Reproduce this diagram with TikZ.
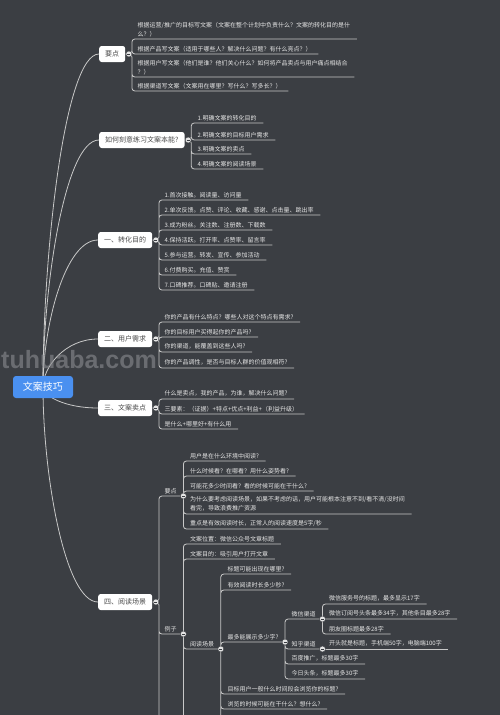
\documentclass[tikz,border=0pt]{standalone}
\usepackage{fontspec}
\setmainfont{Noto Sans CJK SC}
\newfontfamily\markfont{Liberation Sans}
\usetikzlibrary{calc}
\pgfdeclarelayer{canvas}
\pgfdeclarelayer{wires}
\pgfsetlayers{canvas,wires,main}
\definecolor{mapbg}{HTML}{3B3E43}
\definecolor{mapline}{HTML}{C8C8C8}
\definecolor{maptext}{HTML}{E6E6E6}
\definecolor{boxtext}{HTML}{4A4A4A}
\definecolor{rootblue}{HTML}{4A90F0}
\definecolor{knobfill}{HTML}{E4E4E4}
\definecolor{markgray}{HTML}{8A8C90}

\begin{document}
\begin{tikzpicture}[
    x=1pt, y=-1pt,
    root/.style={
      rectangle, rounded corners=3pt,
      fill=rootblue, text=white,
      font=\fontsize{10}{12}\selectfont,
      minimum width=60pt, minimum height=22pt, inner sep=0pt,
    },
    topic/.style={
      rectangle, rounded corners=2.5pt, anchor=west,
      fill=white, text=boxtext,
      font=\fontsize{7}{8}\selectfont,
      minimum height=16pt, inner xsep=6pt, inner ysep=0pt,
    },
    leaf/.style={
      anchor=south west, align=left, text=maptext,
      font=\fontsize{6}{9}\selectfont,
      inner xsep=6.5pt, inner ysep=2.2pt,
    },
    knob/.style={
      circle, fill=knobfill, draw=mapbg, line width=0.4pt,
      minimum size=6pt, inner sep=0pt,
      path picture={\draw[mapbg, line width=0.6pt]
        ([xshift=-1.5pt]path picture bounding box.center) --
        ([xshift=1.5pt]path picture bounding box.center);},
    },
    link/.style={draw=mapline, line width=0.8pt, rounded corners=3pt},
    curve/.style={draw=mapline, line width=0.8pt},
  ]

  \useasboundingbox (0,0) rectangle (500,715);
  \begin{pgfonlayer}{canvas}
    \fill[mapbg] (0,0) rectangle (500,715);
  \end{pgfonlayer}
  \clip (0,0) rectangle (500,715);

  % root and main branches
  \node[root] (root) at (43,387) {文案技巧};
  \node[topic] (yd) at (99,54) {要点};
  \node[topic] (lx) at (99,140) {如何刻意练习文案本能?};
  \node[topic] (mb) at (98,240) {一、转化目的};
  \node[topic] (xq) at (98,339) {二、用户需求};
  \node[topic] (md) at (98,408) {三、文案卖点};
  \node[topic] (cj) at (98,602) {四、阅读场景};

  \begin{pgfonlayer}{wires}
    \draw[curve] (root.center) .. controls +(0,-137) and +(-34,0) .. (yd.west);
    \draw[curve] (root.center) .. controls +(0,-101) and +(-34,0) .. (lx.west);
    \draw[curve] (root.center) .. controls +(0,-61) and +(-33,0) .. (mb.west);
    \draw[curve] (root.center) .. controls +(0,-20) and +(-33,0) .. (xq.west);
    \draw[curve] (root.center) .. controls +(0,9) and +(-33,0) .. (md.west);
    \draw[curve] (root.center) .. controls +(0,88) and +(-33,0) .. (cj.west);
  \end{pgfonlayer}

  % 要点
  \node[leaf] (yd-a) at (131,39) {根据运营/推广的目标写文案（文案在整个计划中负责什么？文案的转化目的是什\\么？）};
  \node[leaf] (yd-b) at (131,54) {根据产品写文案（适用于哪些人？解决什么问题？有什么亮点？）};
  \node[leaf] (yd-c) at (131,77) {根据用户写文案（他们是谁？他们关心什么？如何将产品卖点与用户痛点相结合\\？）};
  \node[leaf] (yd-d) at (131,91) {根据渠道写文案（文案用在哪里？写什么？写多长？）};
  \node[knob] (yd-k) at ([xshift=3.5pt]yd.east) {};
  \begin{pgfonlayer}{wires}
    \draw[link] (yd.east) -- ++(6.5,0) |- (yd-a.south east) (yd.east) -- ++(6.5,0) |- (yd-b.south east)
      (yd.east) -- ++(6.5,0) |- (yd-c.south east) (yd.east) -- ++(6.5,0) |- (yd-d.south east);
  \end{pgfonlayer}

  % 如何刻意练习
  \node[leaf] (lx-a) at (191,123) {1.明确文案的转化目的};
  \node[leaf] (lx-b) at (191,140) {2.明确文案的目标用户需求};
  \node[leaf] (lx-c) at (191,154) {3.明确文案的卖点};
  \node[leaf] (lx-d) at (191,169) {4.明确文案的阅读场景};
  \node[knob] (lx-k) at ([xshift=3.5pt]lx.east) {};
  \begin{pgfonlayer}{wires}
    \draw[link] (lx.east) -- ++(6.5,0) |- (lx-a.south east) (lx.east) -- ++(6.5,0) |- (lx-b.south east)
      (lx.east) -- ++(6.5,0) |- (lx-c.south east) (lx.east) -- ++(6.5,0) |- (lx-d.south east);
  \end{pgfonlayer}

  % 一、转化目的
  \node[leaf] (mb-a) at (158,200) {1.首次接触。阅读量、访问量};
  \node[leaf] (mb-b) at (158,215) {2.单次反馈。点赞、评论、收藏、感谢、点击量、跳出率};
  \node[leaf] (mb-c) at (158,230) {3.成为粉丝。关注数、注册数、下载数};
  \node[leaf] (mb-d) at (158,245) {4.保持活跃。打开率、点赞率、留言率};
  \node[leaf] (mb-e) at (158,260) {5.参与运营。转发、宣传、参加活动};
  \node[leaf] (mb-f) at (158,275) {6.付费购买。充值、赞赏};
  \node[leaf] (mb-g) at (158,290) {7.口碑推荐。口碑贴、邀请注册};
  \node[knob] (mb-k) at ([xshift=3.5pt]mb.east) {};
  \begin{pgfonlayer}{wires}
    \draw[link] (mb.east) -- ++(6.5,0) |- (mb-a.south east) (mb.east) -- ++(6.5,0) |- (mb-b.south east)
      (mb.east) -- ++(6.5,0) |- (mb-c.south east) (mb.east) -- ++(6.5,0) |- (mb-d.south east)
      (mb.east) -- ++(6.5,0) |- (mb-e.south east) (mb.east) -- ++(6.5,0) |- (mb-f.south east)
      (mb.east) -- ++(6.5,0) |- (mb-g.south east);
  \end{pgfonlayer}

  % 二、用户需求
  \node[leaf] (xq-a) at (158,322) {你的产品有什么特点？哪些人对这个特点有需求?};
  \node[leaf] (xq-b) at (158,337) {你的目标用户买得起你的产品吗?};
  \node[leaf] (xq-c) at (158,352) {你的渠道，能覆盖到这些人吗?};
  \node[leaf] (xq-d) at (158,368) {你的产品调性，是否与目标人群的价值观相符?};
  \node[knob] (xq-k) at ([xshift=3.5pt]xq.east) {};
  \begin{pgfonlayer}{wires}
    \draw[link] (xq.east) -- ++(6.5,0) |- (xq-a.south east) (xq.east) -- ++(6.5,0) |- (xq-b.south east)
      (xq.east) -- ++(6.5,0) |- (xq-c.south east) (xq.east) -- ++(6.5,0) |- (xq-d.south east);
  \end{pgfonlayer}

  % 三、文案卖点
  \node[leaf] (md-a) at (158,399) {什么是卖点，我的产品，为谁，解决什么问题?};
  \node[leaf] (md-b) at (158,414) {三要素：（证据）+特点+优点+利益+（利益升级）};
  \node[leaf] (md-c) at (158,429) {是什么+哪里好+有什么用};
  \node[knob] (md-k) at ([xshift=3.5pt]md.east) {};
  \begin{pgfonlayer}{wires}
    \draw[link] (md.east) -- ++(6.5,0) |- (md-a.south east) (md.east) -- ++(6.5,0) |- (md-b.south east)
      (md.east) -- ++(6.5,0) |- (md-c.south east);
  \end{pgfonlayer}

  % 四、阅读场景
  \node[leaf] (cj-a) at (158,496) {要点};
  \node[leaf] (cj-b) at (158,634) {例子};
  \coordinate (cj-end) at ($(cj.east)+(6.5,120)$);
  \node[knob] (cj-k) at ([xshift=3.5pt]cj.east) {};
  \begin{pgfonlayer}{wires}
    \draw[link] (cj.east) -- ++(6.5,0) |- (cj-a.south east) (cj.east) -- ++(6.5,0) |- (cj-b.south east)
      (cj.east) -- ++(6.5,0) -- (cj-end);
  \end{pgfonlayer}

  % 四 / 要点
  \node[leaf] (yd4-a) at (cj-a.south east |- 0,461) {用户是在什么环境中阅读?};
  \node[leaf] (yd4-b) at (cj-a.south east |- 0,476) {什么时候看？在哪看？用什么姿势看?};
  \node[leaf] (yd4-c) at (cj-a.south east |- 0,491) {可能花多少时间看？看的时候可能在干什么?};
  \node[leaf] (yd4-d) at (cj-a.south east |- 0,514) {为什么要考虑阅读场景，如果不考虑的话，用户可能根本注意不到/看不清/没时间\\看完，导致浪费推广资源};
  \node[leaf] (yd4-e) at (cj-a.south east |- 0,529) {重点是有效阅读时长，正常人的阅读速度是5字/秒};
  \node[knob] (cj-a-k) at (cj-a.south east) {};
  \begin{pgfonlayer}{wires}
    \draw[link] (cj-a.south east) |- (yd4-a.south east) (cj-a.south east) |- (yd4-b.south east)
      (cj-a.south east) |- (yd4-c.south east) (cj-a.south east) |- (yd4-d.south east)
      (cj-a.south east) |- (yd4-e.south east);
  \end{pgfonlayer}

  % 四 / 例子
  \node[leaf] (lz-a) at (cj-b.south east |- 0,544) {文案位置：微信公众号文章标题};
  \node[leaf] (lz-b) at (cj-b.south east |- 0,559) {文案目的：吸引用户打开文章};
  \node[leaf] (yc) at (cj-b.south east |- 0,649) {阅读场景};
  \coordinate (lz-end) at (cj-b.south east |- 0,722);
  \node[knob] (cj-b-k) at (cj-b.south east) {};
  \begin{pgfonlayer}{wires}
    \draw[link] (cj-b.south east) |- (lz-a.south east) (cj-b.south east) |- (lz-b.south east)
      (cj-b.south east) |- (yc.south east) (cj-b.south east) -- (lz-end);
  \end{pgfonlayer}

  % 阅读场景
  \node[leaf] (yc-a) at (yc.south east |- 0,574) {标题可能出现在哪里?};
  \node[leaf] (yc-b) at (yc.south east |- 0,590) {有效阅读时长多少秒?};
  \node[leaf] (zs) at (yc.south east |- 0,642) {最多能展示多少字?};
  \node[leaf] (yc-c) at (yc.south east |- 0,694) {目标用户一般什么时间段会浏览你的标题?};
  \node[leaf] (yc-d) at (yc.south east |- 0,709) {浏览的时候可能在干什么？想什么?};
  \coordinate (yc-end) at (yc.south east |- 0,722);
  \node[knob] (yc-k) at (yc.south east) {};
  \begin{pgfonlayer}{wires}
    \draw[link] (yc.south east) |- (yc-a.south east) (yc.south east) |- (yc-b.south east)
      (yc.south east) |- (zs.south east) (yc.south east) |- (yc-c.south east)
      (yc.south east) |- (yc-d.south east) (yc.south east) -- (yc-end);
  \end{pgfonlayer}

  % 最多能展示多少字
  \node[leaf] (wx) at (zs.south east |- 0,619) {微信渠道};
  \node[leaf] (zh) at (zs.south east |- 0,649) {知乎渠道};
  \node[leaf] (zs-a) at (zs.south east |- 0,664) {百度推广，标题最多30字};
  \node[leaf] (zs-b) at (zs.south east |- 0,679) {今日头条，标题最多30字};
  \node[knob] (zs-k) at (zs.south east) {};
  \begin{pgfonlayer}{wires}
    \draw[link] (zs.south east) |- (wx.south east) (zs.south east) |- (zh.south east)
      (zs.south east) |- (zs-a.south east) (zs.south east) |- (zs-b.south east);
  \end{pgfonlayer}

  % 微信渠道 / 知乎渠道
  \node[leaf] (wx-a) at (wx.south east |- 0,604) {微信服务号的标题，最多显示17字};
  \node[leaf] (wx-b) at (wx.south east |- 0,619) {微信订阅号头条最多34字，其他条目最多28字};
  \node[leaf] (wx-c) at (wx.south east |- 0,634) {朋友圈标题最多28字};
  \node[leaf] (zh-a) at (zh.south east |- 0,649) {开头就是标题，手机端50字，电脑端100字};
  \node[knob] (wx-k) at (wx.south east) {};
  \node[knob] (zh-k) at (zh.south east) {};
  \begin{pgfonlayer}{wires}
    \draw[link] (wx.south east) |- (wx-a.south east) (wx.south east) |- (wx-b.south east)
      (wx.south east) |- (wx-c.south east);
    \draw[link] (zh.south east) -- (zh-a.south east);
  \end{pgfonlayer}

  % watermark
  \node[font=\markfont\bfseries\fontsize{25}{25}\selectfont, text=markgray, opacity=0.6,
    anchor=base west, inner sep=0pt] (mark) at (1,368) {tuhuaba.com};
\end{tikzpicture}
\end{document}
